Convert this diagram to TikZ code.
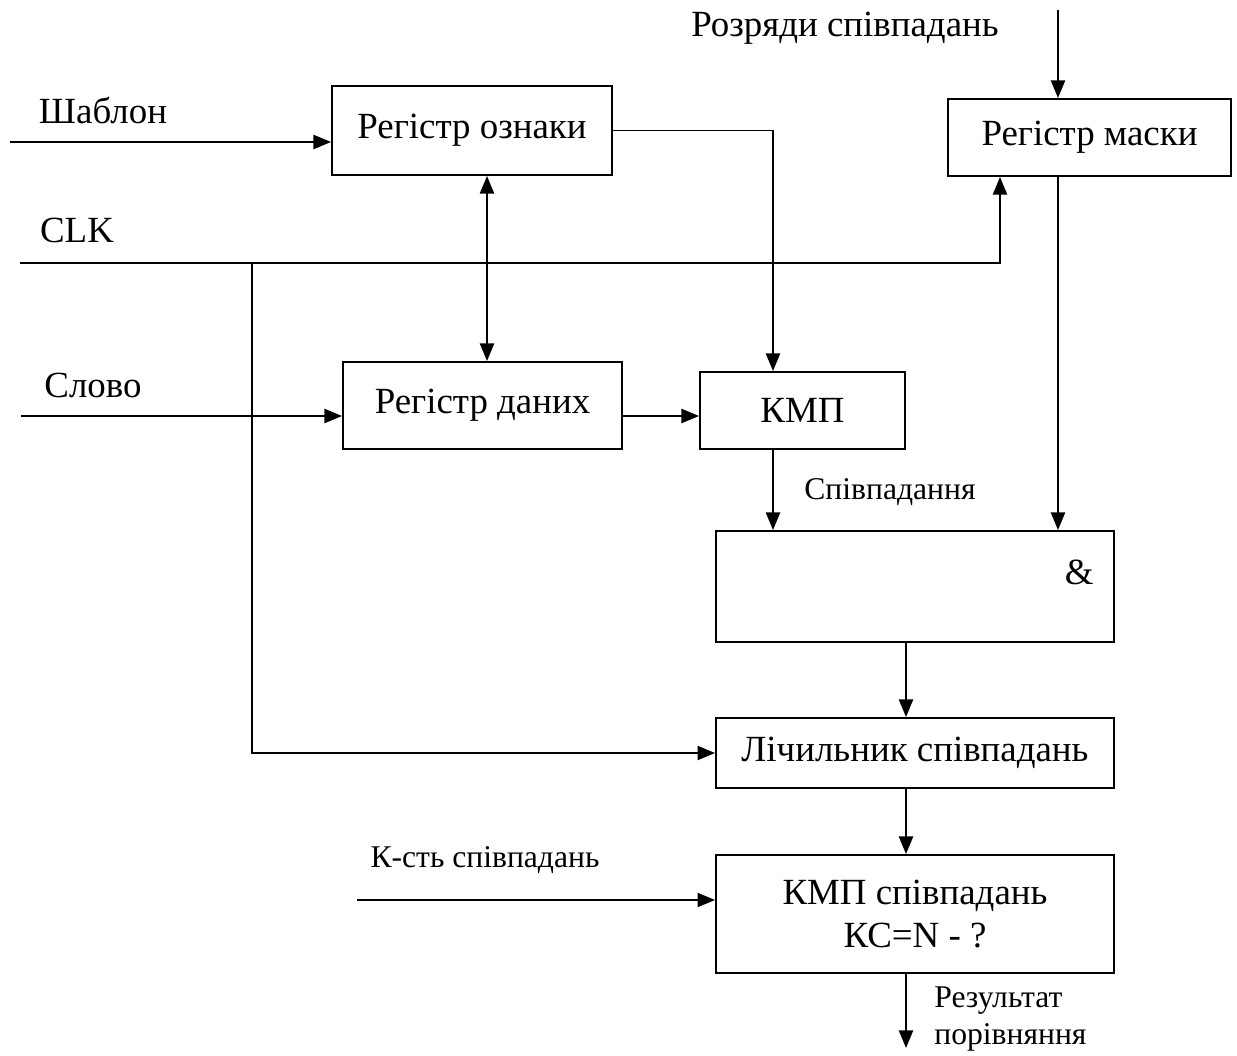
\documentclass[tikz,border=0pt]{standalone}
\usepackage{fontspec}
\setmainfont{Liberation Serif}
\usetikzlibrary{arrows.meta, positioning}

\begin{document}
\begin{tikzpicture}[
  x=0.02cm, y=-0.02cm,
  blk/.style={draw, line width=1.1pt, inner sep=0pt, font=\fontsize{21}{25}\selectfont},
  txt/.style={inner sep=0pt, font=\fontsize{21}{25}\selectfont},
  sml/.style={inner sep=0pt, font=\fontsize{18}{21}\selectfont},
  arr/.style={-{Triangle[length=10pt, width=8pt]}, line width=1.1pt},
  arrb/.style={{Triangle[length=10pt, width=8pt]}-{Triangle[length=10pt, width=8pt]}, line width=1.1pt},
]
\useasboundingbox (0,0) rectangle (1237,1055);

\node[blk, minimum width=5.6cm, minimum height=1.78cm] (ozn) at (472,130.5) {Регістр ознаки};
\node[blk, minimum width=5.66cm, minimum height=1.54cm] (mask) at (1089.5,137.5) {Регістр маски};
\node[blk, minimum width=5.58cm, minimum height=1.74cm] (dat) at (482.5,405.5) {Регістр даних};
\node[blk, minimum width=4.1cm, minimum height=1.54cm] (kmp) at (802.5,410.5) {КМП};
\node[blk, minimum width=7.96cm, minimum height=2.22cm] (and) at (915,586.5) {};
\node[txt, below left=0.6cm and 0.42cm of and.north east] (amp) {\&};
\node[blk, minimum width=7.96cm, minimum height=1.4cm] (lich) at (915,753) {Лічильник співпадань};
\node[blk, minimum width=7.96cm, minimum height=2.36cm, align=center] (kmps) at (915,914) {КМП співпадань\\[-1pt]КС=N - ?};

\node[txt] (lrozr) at (845,28) {Розряди співпадань};
\node[txt] (lshab) at (103,110) {Шаблон};
\node[txt] (lclk) at (77,230) {CLK};
\node[txt] (lslovo) at (93,385) {Слово};
\node[sml] (lspiv) at (890,492) {Співпадання};
\node[sml] (lkst) at (485,860) {К-сть співпадань};
\node[sml, anchor=west, align=left] (lres) at (934,1019) {Результат\\[0pt]порівняння};

\coordinate (shab) at (10,142);
\coordinate (clk) at (20,263);
\coordinate (br) at (252,263);
\coordinate (slovo) at (21,416);
\coordinate (rozr) at (1058,10);
\coordinate (kst) at (357,900);
\coordinate (res) at (906,1048);
\coordinate (c1) at (773,0);
\coordinate (c2) at (487,0);
\coordinate (c3) at (1000,0);

\draw[arr] (shab) -- (shab -| ozn.west);
\draw[arr] (ozn.east) -| (c1 |- kmp.north);
\draw[arrb] (c2 |- ozn.south) -- (c2 |- dat.north);
\draw[arr] (rozr) -- (rozr |- mask.north);
\draw[arr] (clk) -| (c3 |- mask.south);
\draw[arr] (br) |- (lich.west);
\draw[arr] (slovo) -- (slovo -| dat.west);
\draw[arr] (dat.east |- slovo) -- (kmp.west |- slovo);
\draw[arr] (c1 |- kmp.south) -- (c1 |- and.north);
\draw[arr] (rozr |- mask.south) -- (rozr |- and.north);
\draw[arr] (res |- and.south) -- (res |- lich.north);
\draw[arr] (res |- lich.south) -- (res |- kmps.north);
\draw[arr] (kst) -- (kst -| kmps.west);
\draw[arr] (res |- kmps.south) -- (res);
\end{tikzpicture}
\end{document}
